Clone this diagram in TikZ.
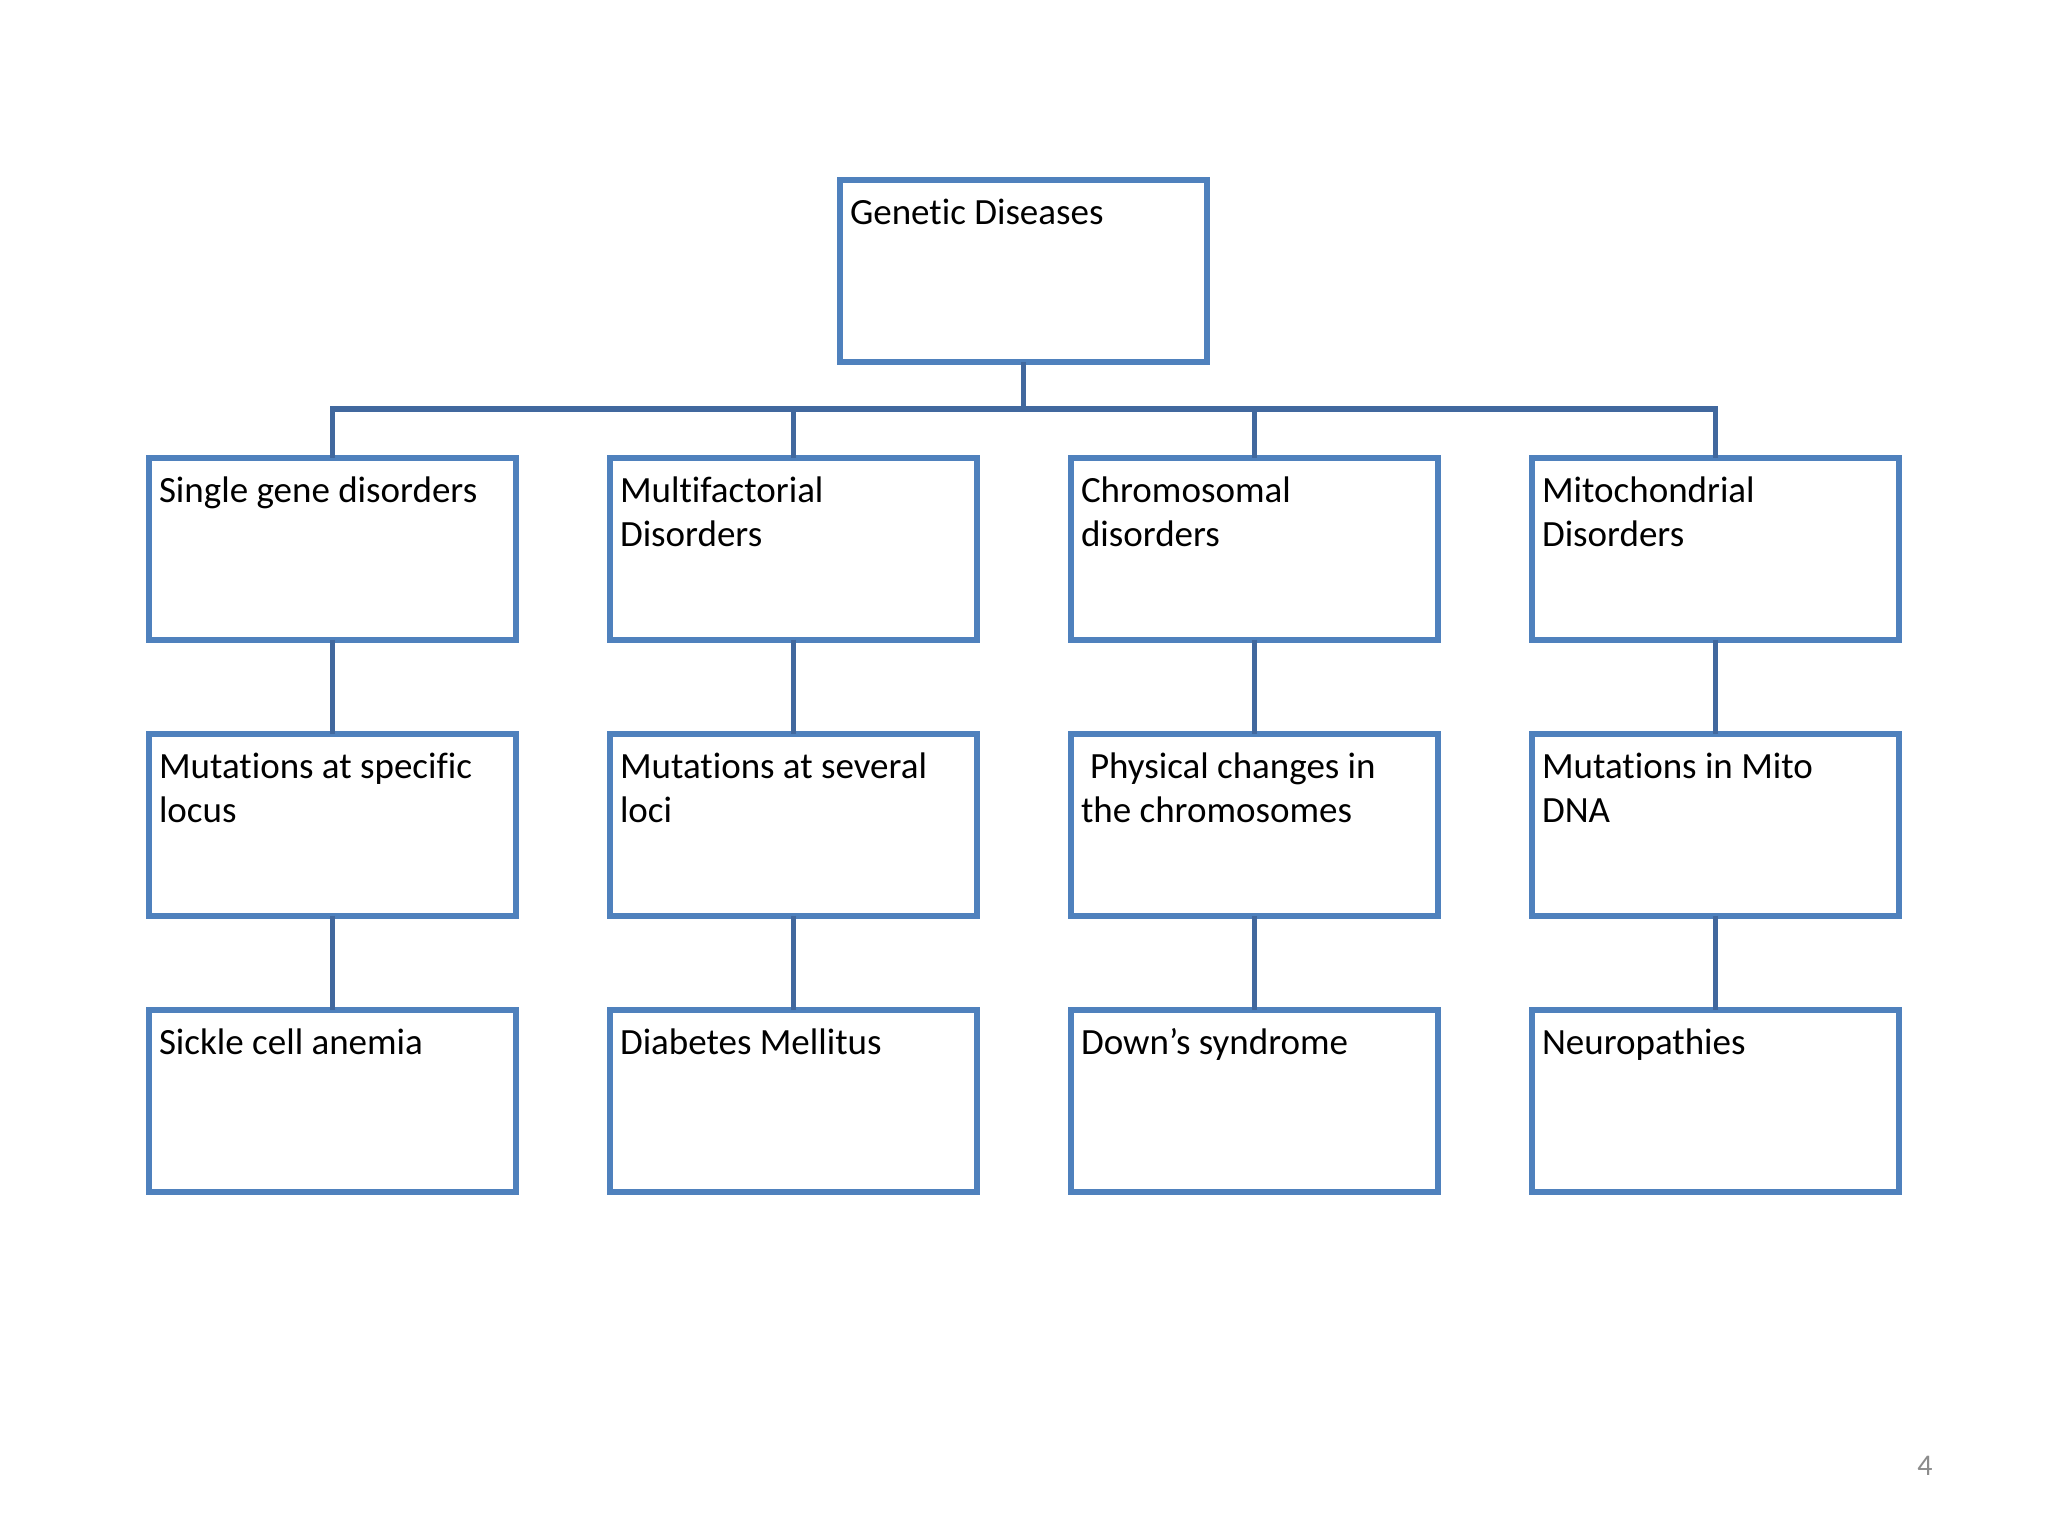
\documentclass[tikz,border=0pt]{standalone}
\usepackage{fontspec}
\setmainfont{Carlito}[Ligatures={NoCommon}]
\definecolor{boxblue}{HTML}{4F81BD}
\definecolor{linkblue}{HTML}{41689E}
\definecolor{pagegray}{HTML}{8C8C8C}
\newcommand{\bx}[1]{\parbox[c][182pt][t]{367pt}{\leftskip=10pt\rightskip=0pt plus 1fil\parindent=0pt\fontsize{37}{44}\selectfont\rule{0pt}{44.5pt}#1}}
\tikzset{
  gbox/.style={draw=boxblue, line width=6pt, fill=white, inner sep=0pt, outer sep=0pt, anchor=center},
  link/.style={draw=linkblue, line width=5.5pt}
}
\begin{document}
\begin{tikzpicture}[x=1pt,y=-1pt]
\useasboundingbox (0,0) rectangle (2048,1536);
\fill[white] (0,0) rectangle (2048,1536);
\coordinate (bus) at (1024,409);
% top
\node[gbox] (top) at (1023.5,271) {\bx{Genetic Diseases}};
% row 1
\node[gbox] (a1) at (332.5,548.5) {\bx{Single gene disorders}};
\node[gbox] (b1) at (793.5,548.5) {\bx{Multifactorial\\Disorders}};
\node[gbox] (c1) at (1254.5,548.5) {\bx{Chromosomal\\disorders}};
\node[gbox] (d1) at (1715.5,548.5) {\bx{Mitochondrial\\Disorders}};
% row 2
\node[gbox] (a2) at (332.5,824.5) {\bx{Mutations at specific\\locus}};
\node[gbox] (b2) at (793.5,824.5) {\bx{Mutations at several\\loci}};
\node[gbox] (c2) at (1254.5,824.5) {\bx{\hspace*{9pt}Physical changes in\\the chromosomes}};
\node[gbox] (d2) at (1715.5,824.5) {\bx{Mutations in Mito\\DNA}};
% row 3
\node[gbox] (a3) at (332.5,1100.5) {\bx{Sickle cell anemia}};
\node[gbox] (b3) at (793.5,1100.5) {\bx{Diabetes Mellitus}};
\node[gbox] (c3) at (1254.5,1100.5) {\bx{Down’s syndrome}};
\node[gbox] (d3) at (1715.5,1100.5) {\bx{Neuropathies}};
% connectors
\draw[link] (top.south) -- (top.south |- bus);
\draw[link,line cap=rect] (a1.north |- bus) -- (d1.north |- bus);
\draw[link] (a1.north |- bus) -- (a1.north);
\draw[link] (b1.north |- bus) -- (b1.north);
\draw[link] (c1.north |- bus) -- (c1.north);
\draw[link] (d1.north |- bus) -- (d1.north);
\foreach \c in {a,b,c,d}{
  \draw[link] (\c1.south) -- (\c2.north);
  \draw[link] (\c2.south) -- (\c3.north);
}
\node[text=pagegray, font=\fontsize{30}{36}\selectfont, anchor=base] (pnum) at (1925,1475) {4};
\end{tikzpicture}
\end{document}
